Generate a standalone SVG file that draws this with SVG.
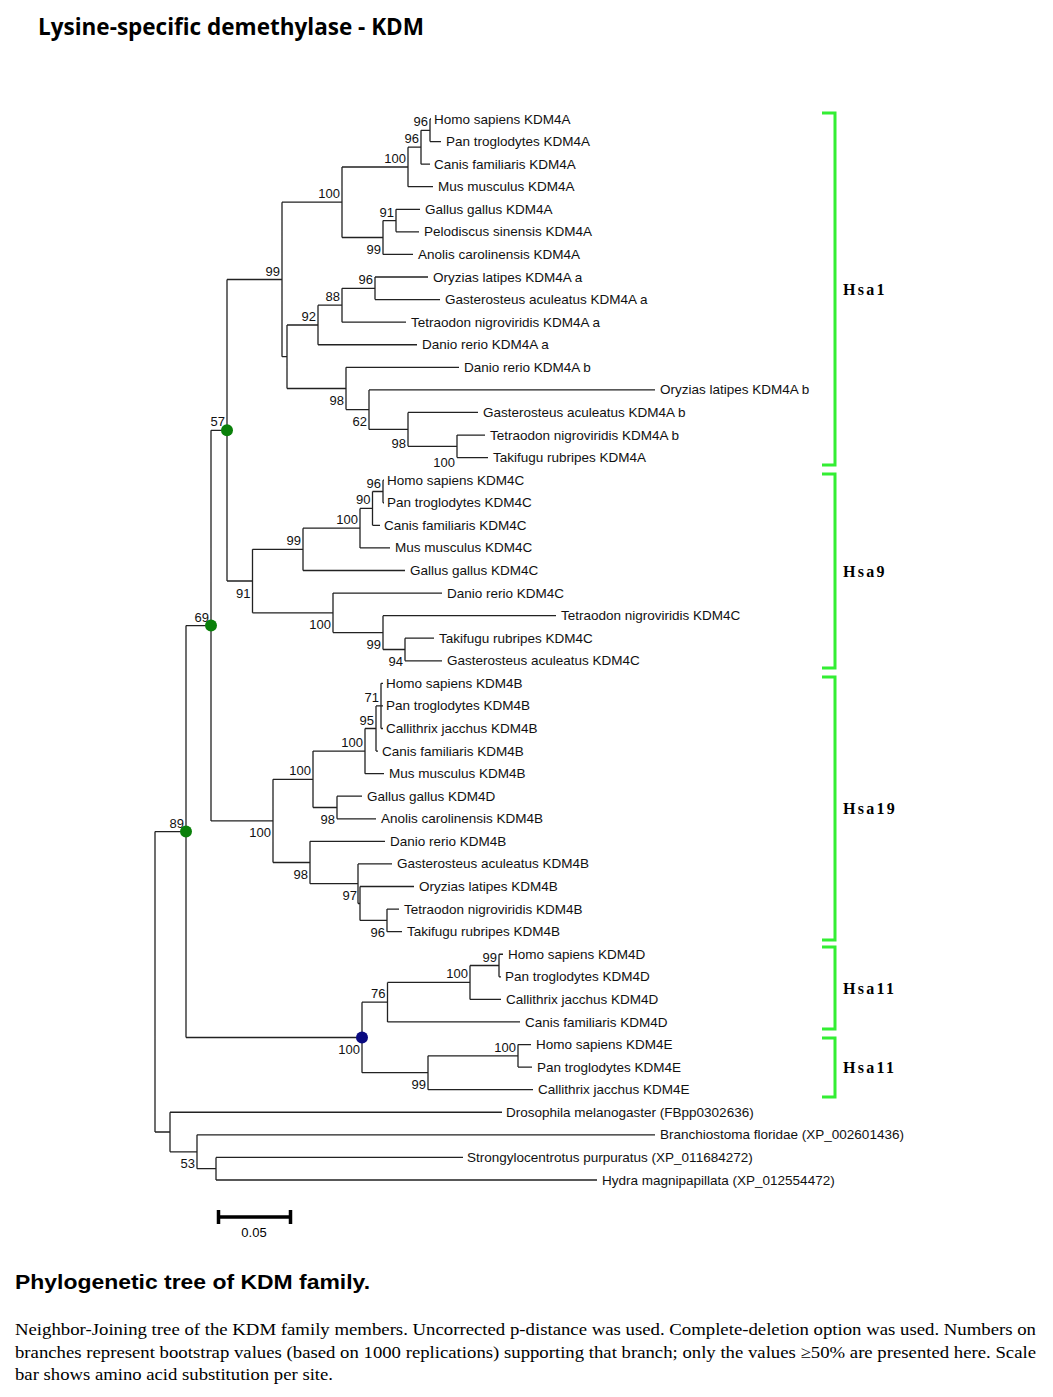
<svg xmlns="http://www.w3.org/2000/svg" width="1053" height="1397" viewBox="0 0 1053 1397">
<style>
.leaf{font-family:"Liberation Sans",Arial,sans-serif;font-size:13.5px;fill:#111}
.bs{font-family:"Liberation Sans",Arial,sans-serif;font-size:13px;fill:#111;text-anchor:end}
.br{fill:none;stroke:#33ee33;stroke-width:3}
.grp{font-family:"Liberation Serif","Times New Roman",serif;font-size:16px;font-weight:bold;letter-spacing:2.3px;fill:#000}
.cap{font-family:"Liberation Serif","Times New Roman",serif;font-size:17px;fill:#000}
.g{fill:#0a800a}
.b{fill:#0a0a80}
</style>
<rect width="1053" height="1397" fill="#fff"/>
<text x="38" y="35" font-family="'Open Sans',sans-serif" font-weight="bold" font-size="23" textLength="386" lengthAdjust="spacingAndGlyphs">Lysine-specific demethylase - KDM</text>

<g id="connectors" fill="none" stroke="#222" stroke-width="1.3">
<path d="M430,119V141.57M430,119H431M430,141.57H441
M421,130.3V164.15M421,130.3H430M421,164.15H430
M408,147.2V186.72M408,147.2H421M408,186.72H433
M396,209.3V231.87M396,209.3H420M396,231.87H419
M383,220.6V254.44M383,220.6H396M383,254.44H413
M342,167V237.5M342,167H408M342,237.5H383
M375,277.02V299.59M375,277.02H428M375,299.59H440
M342,288.3V322.17M342,288.3H375M342,322.17H406
M318,305.2V344.74M318,305.2H342M318,344.74H417
M457,435.04V457.61M457,435.04H485M457,457.61H488
M408,412.46V446.3M408,412.46H478M408,446.3H457
M369,389.89V429.4M369,389.89H655M369,429.4H408
M346,367.31V409.6M346,367.31H459M346,409.6H369
M287,325V388.5M287,325H318M287,388.5H346
M282,202.2V356.7M282,202.2H342M282,356.7H287
M383,480.18V502.76M383,480.18H384M383,502.76H384
M372.5,491.5V525.33M372.5,491.5H383M372.5,525.33H380
M360,508.4V547.91M360,508.4H372.5M360,547.91H390
M303,528.2V570.48M303,528.2H360M303,570.48H405
M405,638.2V660.78M405,638.2H434M405,660.78H442
M383,615.63V649.5M383,615.63H556M383,649.5H405
M333,593.05V632.6M333,593.05H442M333,632.6H383
M252.5,549.3V612.8M252.5,549.3H303M252.5,612.8H333
M227,279.5V581M227,279.5H282M227,581H252.5
M381,683.35V728.5M381,683.35H383M381,705.92H383M381,728.5H383
M376,705.9V751.07M376,705.9H381M376,751.07H378
M365,728.5V773.65M365,728.5H376M365,773.65H384
M337,796.22V818.79M337,796.22H362M337,818.79H376
M313,751.1V807.5M313,751.1H365M313,807.5H337
M387,909.09V931.66M387,909.09H399M387,931.66H402
M360,886.52V920.4M360,886.52H414M360,920.4H387
M358,863.94V903.5M358,863.94H392M358,903.5H360
M310,841.37V883.7M310,841.37H385M310,883.7H358
M273,779.3V862.5M273,779.3H313M273,862.5H310
M211,430.3V820.9M211,430.3H227M211,820.9H273
M499,954.24V976.81M499,954.24H503M499,976.81H501
M470,965.5V999.39M470,965.5H499M470,999.39H501
M387.5,982.4V1021.96M387.5,982.4H470M387.5,1021.96H520
M518,1044.53V1067.11M518,1044.53H531M518,1067.11H532
M428,1055.8V1089.68M428,1055.8H518M428,1089.68H533
M362,1002.2V1072.7M362,1002.2H387.5M362,1072.7H428
M186,625.6V1037.5M186,625.6H211M186,1037.5H362
M216,1157.4V1179.98M216,1157.4H463M216,1179.98H597
M197,1134.83V1168.7M197,1134.83H655M197,1168.7H216
M170,1112.26V1151.8M170,1112.26H502M170,1151.8H197
M155,831.6V1132M155,831.6H186M155,1132H170"/>
</g>

<g id="leaves" class="leaf">
<g id="leaf1"><text x="434" y="123.5">Homo sapiens KDM4A</text></g>
<g id="leaf2"><text x="446" y="146.1">Pan troglodytes KDM4A</text></g>
<g id="leaf3"><text x="434" y="168.6">Canis familiaris KDM4A</text></g>
<g id="leaf4"><text x="438" y="191.2">Mus musculus KDM4A</text></g>
<g id="leaf5"><text x="425" y="213.8">Gallus gallus KDM4A</text></g>
<g id="leaf6"><text x="424" y="236.4">Pelodiscus sinensis KDM4A</text></g>
<g id="leaf7"><text x="418" y="258.9">Anolis carolinensis KDM4A</text></g>
<g id="leaf8"><text x="433" y="281.5">Oryzias latipes KDM4A a</text></g>
<g id="leaf9"><text x="445" y="304.1">Gasterosteus aculeatus KDM4A a</text></g>
<g id="leaf10"><text x="411" y="326.7">Tetraodon nigroviridis KDM4A a</text></g>
<g id="leaf11"><text x="422" y="349.2">Danio rerio KDM4A a</text></g>
<g id="leaf12"><text x="464" y="371.8">Danio rerio KDM4A b</text></g>
<g id="leaf13"><text x="660" y="394.4">Oryzias latipes KDM4A b</text></g>
<g id="leaf14"><text x="483" y="417">Gasterosteus aculeatus KDM4A b</text></g>
<g id="leaf15"><text x="490" y="439.5">Tetraodon nigroviridis KDM4A b</text></g>
<g id="leaf16"><text x="493" y="462.1">Takifugu rubripes KDM4A</text></g>
<g id="leaf17"><text x="387" y="484.7">Homo sapiens KDM4C</text></g>
<g id="leaf18"><text x="387" y="507.3">Pan troglodytes KDM4C</text></g>
<g id="leaf19"><text x="384" y="529.8">Canis familiaris KDM4C</text></g>
<g id="leaf20"><text x="395" y="552.4">Mus musculus KDM4C</text></g>
<g id="leaf21"><text x="410" y="575">Gallus gallus KDM4C</text></g>
<g id="leaf22"><text x="447" y="597.6">Danio rerio KDM4C</text></g>
<g id="leaf23"><text x="561" y="620.1">Tetraodon nigroviridis KDM4C</text></g>
<g id="leaf24"><text x="439" y="642.7">Takifugu rubripes KDM4C</text></g>
<g id="leaf25"><text x="447" y="665.3">Gasterosteus aculeatus KDM4C</text></g>
<g id="leaf26"><text x="386" y="687.9">Homo sapiens KDM4B</text></g>
<g id="leaf27"><text x="386" y="710.4">Pan troglodytes KDM4B</text></g>
<g id="leaf28"><text x="386" y="733">Callithrix jacchus KDM4B</text></g>
<g id="leaf29"><text x="382" y="755.6">Canis familiaris KDM4B</text></g>
<g id="leaf30"><text x="389" y="778.2">Mus musculus KDM4B</text></g>
<g id="leaf31"><text x="367" y="800.7">Gallus gallus KDM4D</text></g>
<g id="leaf32"><text x="381" y="823.3">Anolis carolinensis KDM4B</text></g>
<g id="leaf33"><text x="390" y="845.9">Danio rerio KDM4B</text></g>
<g id="leaf34"><text x="397" y="868.4">Gasterosteus aculeatus KDM4B</text></g>
<g id="leaf35"><text x="419" y="891">Oryzias latipes KDM4B</text></g>
<g id="leaf36"><text x="404" y="913.6">Tetraodon nigroviridis KDM4B</text></g>
<g id="leaf37"><text x="407" y="936.2">Takifugu rubripes KDM4B</text></g>
<g id="leaf38"><text x="508" y="958.7">Homo sapiens KDM4D</text></g>
<g id="leaf39"><text x="505" y="981.3">Pan troglodytes KDM4D</text></g>
<g id="leaf40"><text x="506" y="1003.9">Callithrix jacchus KDM4D</text></g>
<g id="leaf41"><text x="525" y="1026.5">Canis familiaris KDM4D</text></g>
<g id="leaf42"><text x="536" y="1049">Homo sapiens KDM4E</text></g>
<g id="leaf43"><text x="537" y="1071.6">Pan troglodytes KDM4E</text></g>
<g id="leaf44"><text x="538" y="1094.2">Callithrix jacchus KDM4E</text></g>
<g id="leaf45"><text x="506" y="1116.8">Drosophila melanogaster (FBpp0302636)</text></g>
<g id="leaf46"><text x="660" y="1139.3">Branchiostoma floridae (XP_002601436)</text></g>
<g id="leaf47"><text x="467" y="1161.9">Strongylocentrotus purpuratus (XP_011684272)</text></g>
<g id="leaf48"><text x="602" y="1184.5">Hydra magnipapillata (XP_012554472)</text></g>
</g>

<g id="bootstrap" class="bs">
<g id="nA1"><text x="428" y="126.3">96</text></g>
<g id="nA2"><text x="419" y="143.2">96</text></g>
<g id="nA3"><text x="406" y="163">100</text></g>
<g id="nAB"><text x="340" y="198.2">100</text></g>
<g id="nB1"><text x="394" y="216.6">91</text></g>
<g id="nB2"><text x="381" y="254">99</text></g>
<g id="nC1"><text x="373" y="284.3">96</text></g>
<g id="nC2"><text x="340" y="301.2">88</text></g>
<g id="nC3"><text x="316" y="321">92</text></g>
<g id="nABCD"><text x="280" y="275.5">99</text></g>
<g id="nD4"><text x="344" y="405">98</text></g>
<g id="nD3"><text x="367" y="426">62</text></g>
<g id="nD2"><text x="406" y="447.5">98</text></g>
<g id="nD1"><text x="455" y="466.5">100</text></g>
<g id="n57"><text x="225" y="426.3">57</text></g>
<g id="nE1"><text x="381" y="487.5">96</text></g>
<g id="nE2"><text x="370.5" y="504.4">90</text></g>
<g id="nE3"><text x="358" y="524.2">100</text></g>
<g id="nE4"><text x="301" y="545.3">99</text></g>
<g id="nEF"><text x="250.5" y="597.5">91</text></g>
<g id="nF3"><text x="331" y="629.3">100</text></g>
<g id="nF2"><text x="381" y="649">99</text></g>
<g id="nF1"><text x="403" y="666">94</text></g>
<g id="n69"><text x="209" y="621.6">69</text></g>
<g id="nG"><text x="379" y="702">71</text></g>
<g id="nG95"><text x="374" y="724.5">95</text></g>
<g id="nG100"><text x="363" y="747">100</text></g>
<g id="nGH"><text x="311" y="775.3">100</text></g>
<g id="nH1"><text x="335" y="824">98</text></g>
<g id="nI1"><text x="385" y="936.9">96</text></g>
<g id="nI2"><text x="357" y="899.5">97</text></g>
<g id="nI4"><text x="308" y="879">98</text></g>
<g id="nGHI"><text x="271" y="837.4">100</text></g>
<g id="n89"><text x="184" y="827.6">89</text></g>
<g id="nJ1"><text x="497" y="961.5">99</text></g>
<g id="nJ2"><text x="468" y="978.4">100</text></g>
<g id="nJ3"><text x="385.5" y="998.2">76</text></g>
<g id="nK1"><text x="516" y="1051.8">100</text></g>
<g id="nK2"><text x="426" y="1089.2">99</text></g>
<g id="nJK"><text x="360" y="1054">100</text></g>
<g id="nM"><text x="195" y="1168.3">53</text></g>
</g>

<g id="dots">
<circle class="g" cx="227" cy="430.3" r="6"/>
<circle class="g" cx="211" cy="625.6" r="6"/>
<circle class="g" cx="186" cy="831.6" r="6"/>
<circle class="b" cx="362" cy="1037.5" r="6"/>
</g>

<g id="scalebar">
<path d="M217,1217H292M218.5,1210V1224M290.5,1210V1224" stroke="#000" stroke-width="3.5" fill="none"/>
<text x="254" y="1236.5" text-anchor="middle" font-family="'Liberation Sans',Arial,sans-serif" font-size="13">0.05</text>
</g>

<g id="brackets">
<g id="hsa1"><path class="br" d="M822,113H835V465H822"/><text class="grp" x="843" y="295">Hsa1</text></g>
<g id="hsa9"><path class="br" d="M822,474H835V668H822"/><text class="grp" x="843" y="577">Hsa9</text></g>
<g id="hsa19"><path class="br" d="M822,677H835V940H822"/><text class="grp" x="843" y="814">Hsa19</text></g>
<g id="hsa11a"><path class="br" d="M822,947H835V1029H822"/><text class="grp" x="843" y="994">Hsa11</text></g>
<g id="hsa11b"><path class="br" d="M822,1038H835V1097H822"/><text class="grp" x="843" y="1073">Hsa11</text></g>
</g>

<text x="15" y="1289" font-family="'Liberation Sans',Arial,sans-serif" font-weight="bold" font-size="20" textLength="355" lengthAdjust="spacingAndGlyphs">Phylogenetic tree of KDM family.</text>
<text class="cap" x="15" y="1335" textLength="1021" lengthAdjust="spacingAndGlyphs">Neighbor-Joining tree of the KDM family members. Uncorrected p-distance was used. Complete-deletion option was used. Numbers on</text>
<text class="cap" x="15" y="1357.5" textLength="1021" lengthAdjust="spacingAndGlyphs">branches represent bootstrap values (based on 1000 replications) supporting that branch; only the values ≥50% are presented here. Scale</text>
<text class="cap" x="15" y="1380" textLength="318" lengthAdjust="spacingAndGlyphs">bar shows amino acid substitution per site.</text>
</svg>
